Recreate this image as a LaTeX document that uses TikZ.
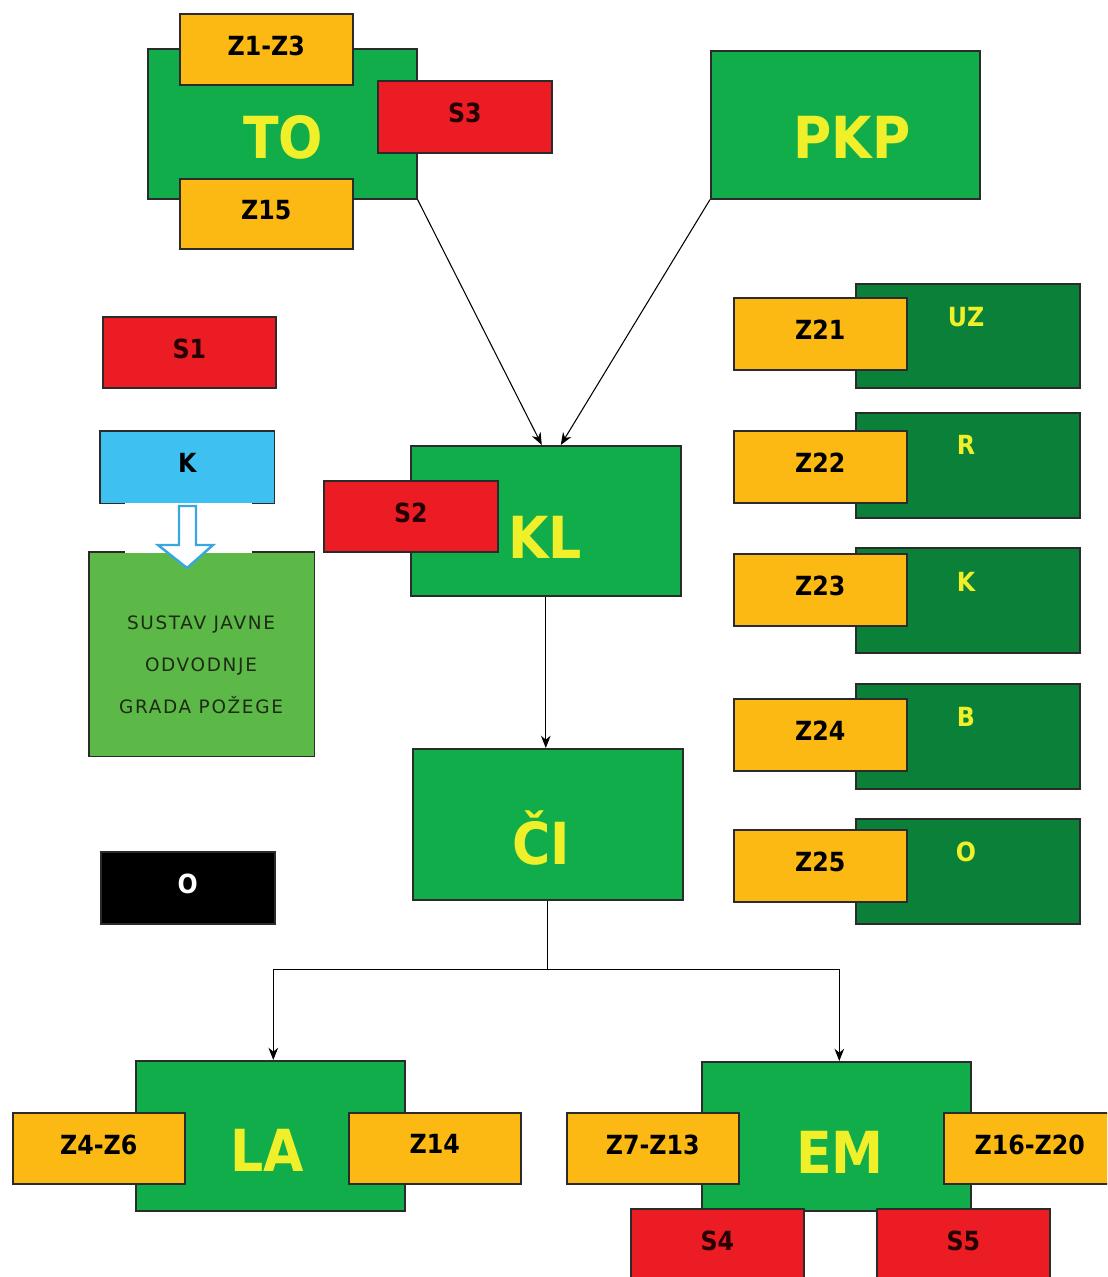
\documentclass[tikz,border=0pt]{standalone}
\usepackage{fontspec}
\setmainfont{DejaVu Sans}
\newfontfamily\cond{DejaVu Sans Condensed}
\usetikzlibrary{arrows.meta,calc}
\newlength\pxu
\setlength\pxu{0.02cm}
\definecolor{gr}{HTML}{12AD4B}
\definecolor{dgr}{HTML}{0B8038}
\definecolor{lgr}{HTML}{5CB947}
\definecolor{org}{HTML}{FDB913}
\definecolor{rd}{HTML}{EC1C24}
\definecolor{bl}{HTML}{3EC0F0}
\definecolor{blo}{HTML}{3AA6DE}
\definecolor{yel}{HTML}{F0F02A}
\definecolor{bord}{HTML}{2B2B2B}
\definecolor{dtext}{HTML}{1E2A14}
\tikzset{
  sz/.style args={#1/#2}{minimum width=#1\pxu,minimum height=#2\pxu},
  box/.style={draw=bord,line width=0.9pt,inner sep=0pt,anchor=north west,text depth=4.5pt,
    font=\cond\bfseries\fontsize{15}{15}\selectfont,text=black},
  gbox/.style={box,fill=gr},
  dbox/.style={box,fill=dgr},
  obox/.style={box,fill=org},
  rbox/.style={box,fill=rd,text={black!85!red}},
  big/.style={font=\cond\bfseries\fontsize{33}{33}\selectfont,text=yel,inner sep=0pt},
  mid/.style={font=\cond\bfseries\fontsize{15}{15}\selectfont,text=yel,inner sep=0pt},
  arr/.style={draw=black,line width=0.6pt,-{Stealth[length=7pt,width=5.5pt]}},
}
\begin{document}
\begin{tikzpicture}[x=0.02cm,y=-0.02cm]
\useasboundingbox (0,0) rectangle (1107,1277);
\clip (0,0) rectangle (1107,1277);
% TO group
\node[gbox,sz=269/150] (TO) at (147,48) {};
\node[big] (TOt) at (283,137) {TO};
\node[obox,sz=173/71] (Z1) at (179,13) {Z1-Z3};
\node[obox,sz=173/70] (Z15) at (179,178) {Z15};
\node[rbox,sz=174/72] (S3) at (377,80) {S3};
% PKP
\node[gbox,sz=269/148] (PKP) at (710,50) {};
\node[big] (PKPt) at (852,137) {PKP};
% right column
\node[dbox,sz=224/104] (UZ) at (855,283) {};
\node[dbox,sz=224/105] (R) at (855,412) {};
\node[dbox,sz=224/105] (Kd) at (855,547) {};
\node[dbox,sz=224/105] (B) at (855,683) {};
\node[dbox,sz=224/105] (Od) at (855,818) {};
\node[mid] (UZt) at (966,317) {UZ};
\node[mid] (Rt) at (966,445) {R};
\node[mid] (Kt) at (966,582) {K};
\node[mid] (Bt) at (966,717) {B};
\node[mid] (Ot) at (966,852) {O};
\node[obox,sz=173/72] (Z21) at (733,297) {Z21};
\node[obox,sz=173/72] (Z22) at (733,430) {Z22};
\node[obox,sz=173/72] (Z23) at (733,553) {Z23};
\node[obox,sz=173/72] (Z24) at (733,698) {Z24};
\node[obox,sz=173/72] (Z25) at (733,829) {Z25};
% left column
\node[rbox,sz=173/71] (S1) at (102,316) {S1};
\node[box,draw=none,fill=bl,sz=173/71] (K) at (100,431) {K};
\draw[draw=bord,line width=0.9pt] ($(K.south west)+(25,0)$) -- (K.south west) -- (K.north west) -- (K.north east) -- (K.south east) -- ++(-23,0);
\node[box,draw=none,fill=lgr,sz=224/203] (SJ) at (89,552) {};
\draw[draw=bord,line width=0.9pt] ($(SJ.north west)+(36,0)$) -- (SJ.north west) -- (SJ.south west) -- (SJ.south east) -- (SJ.north east) -- ++(-63,0);
\node[font=\fontsize{10.5}{24}\selectfont\addfontfeature{LetterSpace=9},text=dtext,align=center,inner sep=0pt] (SJt) at (201,665) {SUSTAV JAVNE\\ODVODNJE\\GRADA POŽEGE};
\draw[draw=blo,fill=white,line width=1.4pt,line join=miter] (179,506) -- (196,506) -- (196,545) -- (213,545) -- (187,568) -- (158,545) -- (179,545) -- cycle;
\node[box,fill=black,text=white,sz=174/72] (O) at (100,851) {O};
% centre column
\node[gbox,sz=270/150] (KL) at (410,445) {};
\node[big] (KLt) at (545,537) {KL};
\node[rbox,sz=174/71] (S2) at (323,480) {S2};
\node[gbox,sz=270/151] (CI) at (412,748) {};
\node[big] (CIt) at (541,838) {ČI};
% bottom
\node[gbox,sz=269/150] (LA) at (135,1060) {};
\node[big] (LAt) at (267,1150) {LA};
\node[obox,sz=172/71] (Z4) at (12,1112) {Z4-Z6};
\node[obox,sz=172/71] (Z14) at (348,1112) {Z14};
\node[gbox,sz=269/149] (EM) at (701,1061) {};
\node[big] (EMt) at (840,1152) {EM};
\node[obox,sz=172/71] (Z7) at (566,1112) {Z7-Z13};
\node[obox,sz=172/71] (Z16) at (943,1112) {Z16-Z20};
\node[rbox,sz=173/72] (S4) at (630,1208) {S4};
\node[rbox,sz=173/72] (S5) at (876,1208) {S5};
% connectors
\draw[arr] (TO.south east) -- ($(KL.north)+(-4,0)$);
\draw[arr] (PKP.south west) -- ($(KL.north)+(15,0)$);
\draw[arr] (KL.south) -- (KL.south |- CI.north);
\draw[line width=0.6pt] (CI.south) -- ++(0,69) coordinate (J);
\draw[arr] (J) -| ($(LA.north)+(3,0)$);
\draw[arr] (J) -| ($(EM.north)+(3,0)$);
\end{tikzpicture}
\end{document}
